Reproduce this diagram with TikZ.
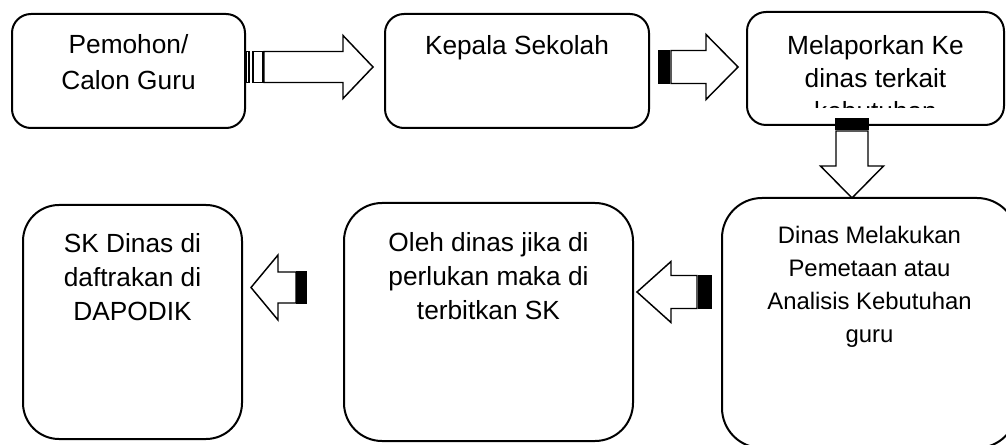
\documentclass[tikz,border=0pt]{standalone}
\usepackage{fontspec}
\setmainfont{Liberation Sans}
\usetikzlibrary{calc}
\newcommand{\pxu}{0.75pt}

\tikzset{
  stripecol/.store in=\stripecol, stripecol=white,
  pics/striped/.style n args={6}{code={
    % block arrow pointing along +x: length, shaft half, head half, head length, body start, stripes
    \draw[arrowline] (#5,-#2) -- (#1-#4,-#2) -- (#1-#4,-#3) -- (#1,0)
      -- (#1-#4,#3) -- (#1-#4,#2) -- (#5,#2) -- cycle;
    \foreach \a/\b in {#6}
      \draw[arrowline, fill=\stripecol] (\a,-#2) rectangle (\b,#2);
  }}
}

\begin{document}
\begin{tikzpicture}[x=\pxu, y=-\pxu,
  box/.style n args={3}{draw, line width=1.5pt, rounded corners=#3*\pxu,
    minimum width=#1*\pxu, minimum height=#2*\pxu, inner sep=0pt},
  arrowline/.style={line width=1.1pt, line join=miter},
  txt/.style={align=center, inner sep=0pt, anchor=north,
    font=\fontsize{19.7}{25.5}\selectfont}]
  \useasboundingbox (0,0) rectangle (1006,445);

  % boxes, top row left to right, bottom row right to left
  \node[box={233}{114}{19}] (pemohon) at (128.5,71) {};
  \node[box={264}{114}{19}] (kepsek)  at (517,71) {};
  \node[box={257}{113}{19}] (melapor) at (875.5,68.5) {};
  \node[box={295}{250}{40}] (dinas)   at (869.5,323) {};
  \node[box={289}{238}{38}] (oleh)    at (488.5,322) {};
  \node[box={219}{234}{36}] (skdinas) at (132.5,322) {};

  \node[txt, font=\fontsize{19.7}{27}\selectfont] (tpemohon) at ($(pemohon.north)+(0,21)$) {Pemohon/\\Calon Guru};
  \node[txt] (tkepsek) at ($(kepsek.north)+(0,22)$) {Kepala Sekolah};
  \begin{scope}
    \clip (melapor.north west) rectangle ($(melapor.south east)+(0,-18)$);
    \node[txt, font=\fontsize{19.7}{24.75}\selectfont] (tmelapor) at ($(melapor.north)+(0,24)$) {Melaporkan Ke\\dinas terkait\\kebutuhan};
  \end{scope}
  \node[txt, font=\fontsize{17.9}{24.75}\selectfont] (tdinas) at ($(dinas.north)+(0,28.5)$) {Dinas Melakukan\\Pemetaan atau\\Analisis Kebutuhan\\guru};
  \node[txt] (toleh) at ($(oleh.north)+(0,30)$) {Oleh dinas jika di\\perlukan maka di\\terbitkan SK};
  \node[txt] (tskdinas) at ($(skdinas.north)+(0,29)$) {SK Dinas di\\daftrakan di\\DAPODIK};

  % striped block arrows
  \pic at ($(pemohon.east)+(0,-4)$) {striped={127}{15.5}{31.5}{30}{18}{0/3,7/17}};
  \pic[stripecol=black] at ($(kepsek.east)+(9,-4)$) {striped={79}{16.5}{32.5}{32}{12}{0/6,8/10}};
  \pic[rotate=-90, stripecol=black] at ($(melapor.south)+(-23.5,-7)$) {striped={79}{16}{31.5}{32}{12}{0/5,7/10}};
  \pic[rotate=180, stripecol=black] at ($(dinas.west)+(-10,-31)$) {striped={74}{16.5}{30.5}{34}{14}{0/7,9/12}};
  \pic[rotate=180, stripecol=black] at ($(oleh.west)+(-37,-34.5)$) {striped={55}{15.5}{32.5}{27}{10}{0/5,7/9}};
\end{tikzpicture}
\end{document}
